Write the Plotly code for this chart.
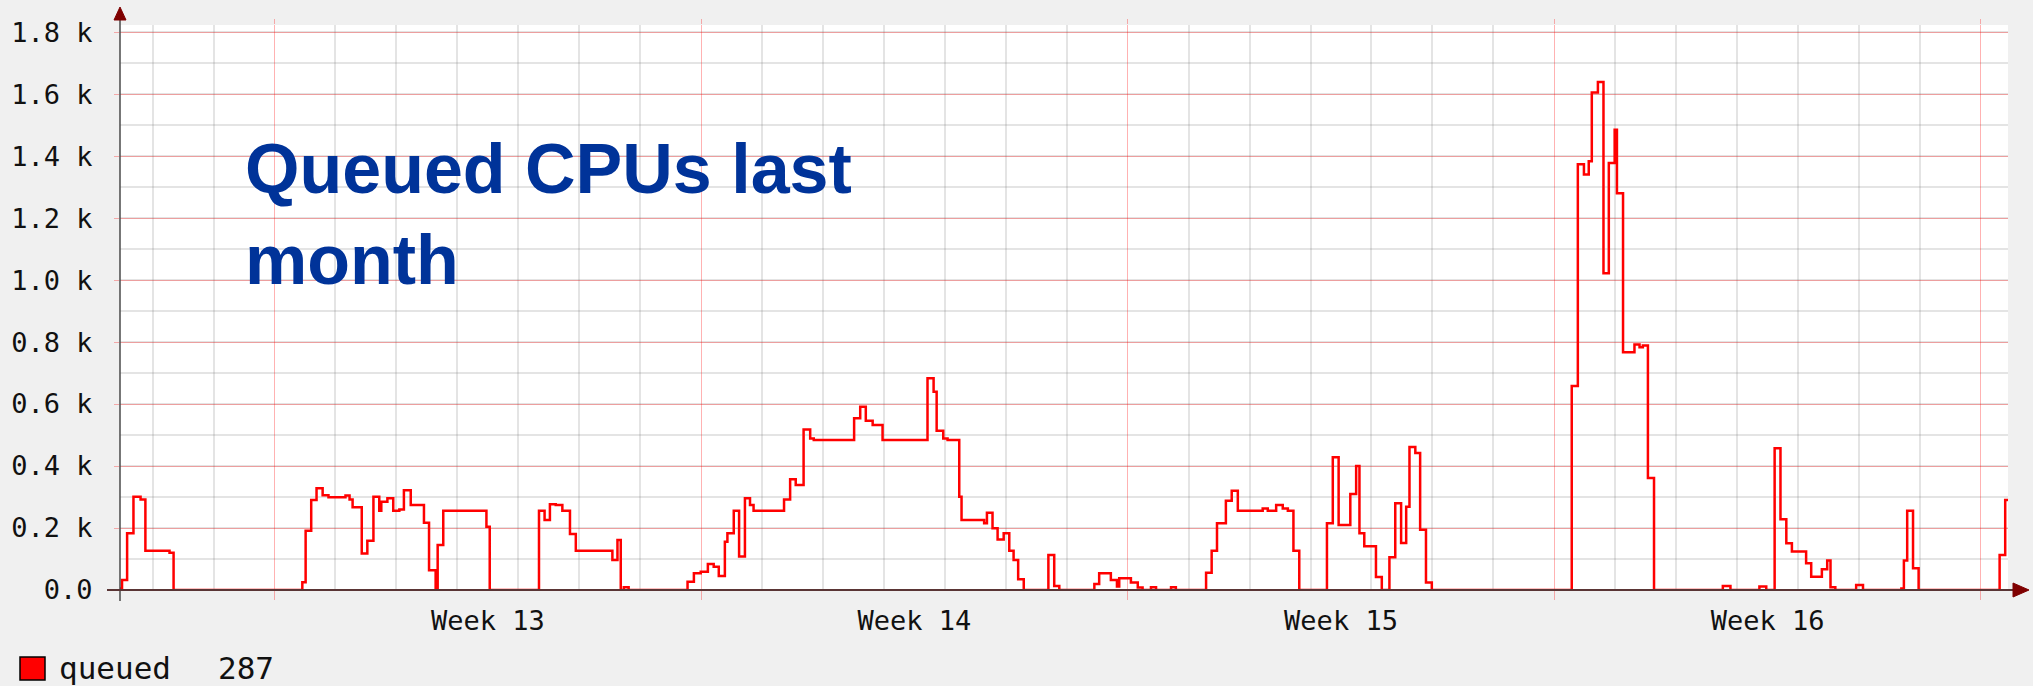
import pandas as pd
import plotly.graph_objects as go

# ---------------- data ----------------
series_name = "queued"
start_time = "2014-03-21 11:10"
span_hours = 743.5
first_monday = "2014-03-24"
week_labels = ["Week 13", "Week 14", "Week 15", "Week 16"]
y_tickvals = [0, 200, 400, 600, 800, 1000, 1200, 1400, 1600, 1800]
y_ticktext = ["0.0", "0.2 k", "0.4 k", "0.6 k", "0.8 k", "1.0 k", "1.2 k", "1.4 k", "1.6 k", "1.8 k"]

# hours since start_time at which each step begins
hours = [0.0, 0.8, 2.8, 5.3, 8.1, 10.0, 19.5, 21.1,
         71.8, 73.1, 75.3, 77.4, 79.8, 82.1, 88.8, 90.4, 91.6, 95.2, 97.4, 99.8, 102.1, 102.9,
         105.3, 107.6, 110.0, 111.8, 114.5, 119.7, 121.7, 124.3, 125.1, 127.3, 144.3, 145.6,
         165.0, 167.2, 169.3, 171.6, 174.2, 177.2, 179.5, 193.9, 195.9, 197.2, 198.4, 200.3,
         223.5, 226.0, 228.7, 231.5, 233.8, 235.8, 238.2, 239.2, 241.7, 243.8, 246.1, 248.1,
         249.5, 261.5, 263.9, 266.1, 269.2, 271.8, 273.2, 289.1, 291.5, 293.7, 296.4, 300.3,
         318.0, 320.4, 321.6, 324.2, 325.9, 330.5, 331.4, 340.3, 341.4, 343.6, 345.6, 348.0,
         350.2, 351.9, 353.7, 355.9,
         365.6, 367.9, 369.9, 383.7, 385.6, 390.2, 392.6, 393.5, 398.1, 400.8, 402.7, 406.0,
         408.0, 413.9, 415.8,
         427.7, 429.9, 432.0, 435.5, 437.8, 440.2, 450.0, 452.0, 455.3, 457.9, 459.9, 462.1, 464.4,
         475.3, 477.6, 479.9, 484.5, 486.8, 488.1, 490.0, 494.6, 496.9, 499.9, 502.2, 504.5,
         506.5, 507.8, 510.1, 512.0, 514.3, 516.6,
         571.7, 574.1, 576.5, 578.4, 579.6, 582.0, 584.2, 586.3, 588.6, 589.5, 591.9, 596.4,
         598.4, 599.7, 601.7, 604.1,
         631.2, 634.2, 645.6, 648.3, 651.6, 653.9, 656.2, 658.4, 664.0, 666.0, 670.2, 672.3,
         673.6, 675.5, 683.7, 686.4, 701.5, 702.5, 703.8, 706.1, 708.3, 740.2, 742.4, 743.4]

values = [5, 32, 183, 301, 292, 127, 120, 0,
          25, 191, 290, 328, 306, 299, 305, 292, 267, 118, 159, 301, 256, 285,
          296, 256, 260, 322, 274, 217, 64, 0, 145, 256, 204, 0,
          256, 226, 277, 274, 256, 181, 127, 97, 161, 0, 9, 0,
          27, 54, 59, 84, 75, 45, 156, 183, 256, 108, 296, 274,
          256, 292, 357, 339, 518, 489, 484, 554, 591, 546, 532, 484,
          683, 640, 514, 489, 484, 301, 226, 215, 249, 199, 163, 183,
          127, 97, 35, 0,
          113, 13, 0, 19, 54, 32, 11, 38, 24, 8, 0, 9,
          0, 9, 0,
          56, 127, 215, 288, 320, 256, 263, 256, 274, 263, 256, 127, 0,
          215, 428, 210, 310, 400, 183, 141, 42, 0, 106, 280, 152,
          269, 461, 442, 194, 24, 0,
          658, 1374, 1341, 1383, 1605, 1639, 1022, 1378, 1485, 1280, 767, 792,
          783, 789, 361, 0,
          13, 0, 11, 0, 457, 228, 151, 124, 86, 43, 67, 95,
          9, 0, 16, 0, 5, 95, 256, 70, 0, 113, 290, 287]

assert len(hours) == len(values)

# ---------------- derived ----------------
start = pd.Timestamp(start_time)
end = start + pd.Timedelta(hours=span_hours)
times = start + pd.to_timedelta(hours, unit="h")
mondays = pd.date_range(first_monday, periods=5, freq="7D")
label_pos = mondays[:4] + pd.Timedelta(hours=84)

# ---------------- geometry / style ----------------
W, H = 2033, 686
ML, MR, MT, MB = 120, 25, 25, 96
PW, PH = W - ML - MR, H - MT - MB
Y_TOP = 1823

def px(x):
    return (x - ML) / PW

def py(y):
    return (H - MB - y) / PH

RED_GRID = "rgba(255,0,0,0.30)"
GRAY_GRID = "rgba(120,120,120,0.20)"
AXIS = "#4a4a4a"
ARROW = "#7F0000"
MONO = "DejaVu Sans Mono"

fig = go.Figure()
fig.add_trace(go.Scatter(
    x=times, y=values, mode="lines", name=series_name,
    line=dict(color="#FF0000", width=2.5, shape="hv"),
    showlegend=False, hoverinfo="skip", xaxis="x", yaxis="y",
))

fig.update_layout(
    width=W, height=H, autosize=False,
    margin=dict(l=ML, r=MR, t=MT, b=MB, pad=0),
    paper_bgcolor="#F0F0F0", plot_bgcolor="#FFFFFF",
    showlegend=False,
    xaxis=dict(
        type="date", range=[start, end],
        tickmode="array", tickvals=list(label_pos), ticktext=week_labels,
        ticks="", showgrid=False, showline=False, zeroline=False,
        tickfont=dict(family=MONO, size=27, color="#111111"),
        ticklabelstandoff=12,
        minor=dict(tickmode="array", tickvals=list(mondays), ticks="outside",
                   ticklen=9, tickcolor=RED_GRID, tickwidth=1.2, showgrid=False),
    ),
    xaxis2=dict(
        type="date", overlaying="x", matches="x", side="top", anchor="y",
        tickmode="linear", tick0=mondays[0], dtick=7 * 86400000,
        showticklabels=False, showgrid=True, gridcolor=RED_GRID, gridwidth=1.2,
        ticks="outside", ticklen=5, tickcolor=RED_GRID, tickwidth=1.2,
        showline=False, zeroline=False,
        minor=dict(tick0=mondays[0], dtick=86400000, showgrid=True,
                   gridcolor=GRAY_GRID, gridwidth=1.5, ticks=""),
    ),
    yaxis=dict(
        range=[0, Y_TOP], tickmode="array", tickvals=y_tickvals, ticktext=y_ticktext,
        showgrid=True, gridcolor=RED_GRID, gridwidth=1.2,
        minor=dict(tickmode="linear", tick0=0, dtick=100, showgrid=True,
                   gridcolor=GRAY_GRID, gridwidth=1.5, ticks=""),
        ticks="outside", ticklen=5, tickcolor=RED_GRID, tickwidth=1.2,
        tickfont=dict(family=MONO, size=27, color="#111111"),
        ticklabelstandoff=16,
        showline=False, zeroline=False,
    ),
)

# a hidden trace so the overlay grid axis is drawn
fig.add_trace(go.Scatter(x=[start, end], y=[None, None], xaxis="x2", yaxis="y",
                         mode="lines", showlegend=False, hoverinfo="skip"))

shapes = [
    # y axis line + arrow
    dict(type="line", xref="paper", yref="paper", x0=px(120), x1=px(120),
         y0=py(601), y1=py(20), line=dict(color=AXIS, width=1.5)),
    dict(type="path", xref="paper", yref="paper",
         path=f"M {px(114)},{py(20)} L {px(126)},{py(20)} L {px(120)},{py(7)} Z",
         fillcolor=ARROW, line=dict(color=ARROW, width=1)),
    # x axis line + arrow
    dict(type="line", xref="paper", yref="paper", x0=px(107), x1=px(2014),
         y0=py(590), y1=py(590), line=dict(color="#5a3535", width=2)),
    dict(type="path", xref="paper", yref="paper",
         path=f"M {px(2013)},{py(583)} L {px(2013)},{py(597)} L {px(2029)},{py(590)} Z",
         fillcolor=ARROW, line=dict(color=ARROW, width=1)),
    # legend swatch
    dict(type="rect", xref="paper", yref="paper", x0=px(20), x1=px(45),
         y0=py(680), y1=py(657), fillcolor="#FF0000", line=dict(color="#000000", width=1.5)),
]
fig.update_layout(shapes=shapes)

annotations = [
    dict(text="Queued CPUs last<br>month", xref="paper", yref="paper",
         x=px(243), y=py(128), xanchor="left", yanchor="top", align="left",
         showarrow=False,
         font=dict(family="Liberation Sans, Arial, sans-serif", size=70,
                   color="#003399", weight="bold")),
    dict(text=series_name, xref="paper", yref="paper", x=px(57), y=py(668),
         xanchor="left", yanchor="middle", showarrow=False,
         font=dict(family=MONO, size=31, color="#111111")),
    dict(text=f"{values[-1]}", xref="paper", yref="paper", x=px(216), y=py(668),
         xanchor="left", yanchor="middle", showarrow=False,
         font=dict(family=MONO, size=31, color="#111111")),
]
fig.update_layout(annotations=annotations)

fig.write_html(
    "out.html",
    config={"displayModeBar": False},
    post_script="document.body.style.margin='0px';document.body.style.background='#F0F0F0';",
)
